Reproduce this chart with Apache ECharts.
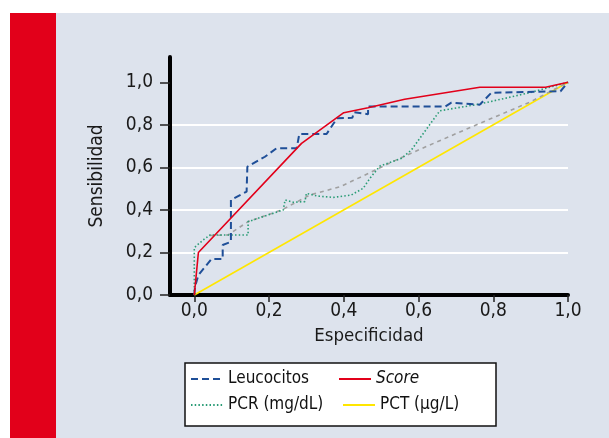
<!DOCTYPE html>
<html>
<head>
<meta charset="utf-8">
<script src="https://cdn.jsdelivr.net/npm/echarts@6/dist/echarts.min.js"></script>
<style>
  html, body { margin: 0; padding: 0; background: #fff; }
  #chart { width: 609px; height: 438px; }
</style>
</head>
<body>
<div id="chart"></div>
<script>
// curvas ROC
const leucX = [0, 0.002, 0.011, 0.046, 0.076, 0.076, 0.098, 0.098, 0.14, 0.142, 0.189, 0.22, 0.274, 0.281, 0.354, 0.382, 0.423, 0.427, 0.465, 0.465, 0.671, 0.688, 0.764, 0.795, 0.98, 1.0];
const leucY = [0, 0.04, 0.094, 0.169, 0.169, 0.235, 0.25, 0.447, 0.486, 0.603, 0.65, 0.69, 0.69, 0.757, 0.757, 0.831, 0.833, 0.86, 0.85, 0.886, 0.886, 0.904, 0.895, 0.951, 0.958, 1.0];

const scoreX = [0, 0.011, 0.287, 0.40, 0.465, 0.563, 0.764, 0.94, 1.0];
const scoreY = [0, 0.2, 0.713, 0.857, 0.88, 0.92, 0.977, 0.977, 1.0];

const pcrX = [0, 0, 0.008, 0.024, 0.042, 0.144, 0.144, 0.238, 0.243, 0.265, 0.296, 0.30, 0.33, 0.372, 0.42, 0.452, 0.47, 0.497, 0.555, 0.581, 0.657, 0.764, 0.897, 1.0];
const pcrY = [0, 0.222, 0.235, 0.259, 0.282, 0.282, 0.345, 0.40, 0.447, 0.436, 0.439, 0.478, 0.465, 0.459, 0.47, 0.502, 0.549, 0.607, 0.643, 0.682, 0.866, 0.898, 0.951, 1.0];

const pctX = [0, 1.0];
const pctY = [0, 1.0];

const refX = [0.042, 0.09, 0.144, 0.234, 0.309, 0.39, 0.47, 0.55, 0.63, 0.764, 0.897, 1.0];
const refY = [0.28, 0.282, 0.345, 0.40, 0.47, 0.509, 0.575, 0.643, 0.705, 0.807, 0.906, 1.0];

const ticks = [0, 0.2, 0.4, 0.6, 0.8, 1.0];
const seriesNames = ['Leucocitos', 'Score', 'PCR (mg/dL)', 'PCT (µg/L)'];

const font = "'DejaVu Sans Condensed', 'Liberation Sans Narrow', sans-serif";

function pairs(xs, ys) {
  return xs.map((x, i) => [x, ys[i]]);
}

function fmt(v) {
  return v.toFixed(1).replace('.', ',');
}

// anchos fijos para que las dos columnas de la leyenda queden alineadas
const legendRich = {
  c1: { fontFamily: font, fontSize: 17, color: '#111', width: 106, lineHeight: 22 },
  c1b: { fontFamily: font, fontSize: 17, color: '#111', width: 110, lineHeight: 22 },
  sc: { fontFamily: font, fontSize: 17, color: '#111', fontStyle: 'italic', width: 100, lineHeight: 22 },
  c2: { fontFamily: font, fontSize: 17, color: '#111', width: 111, lineHeight: 22 }
};
const legendKeys = { 'Leucocitos': 'c1', 'Score': 'sc', 'PCR (mg/dL)': 'c1b', 'PCT (µg/L)': 'c2' };

let myChart = echarts.init(document.getElementById('chart'), null, { renderer: 'canvas' });

let option = {
  backgroundColor: '#ffffff',
  animation: false,
  graphic: [
    { type: 'rect', z: -100, shape: { x: 56, y: 13, width: 553, height: 425 }, style: { fill: '#dde3ed' } },
    { type: 'rect', z: -100, shape: { x: 10, y: 13, width: 46, height: 425 }, style: { fill: '#e2001a' } }
  ],
  grid: { left: 170, right: 41, top: 57, bottom: 143 },
  xAxis: {
    type: 'value',
    min: -0.065,
    max: 1.0,
    name: 'Especificidad',
    nameLocation: 'middle',
    nameGap: 32,
    nameTextStyle: { fontFamily: font, fontSize: 18.5, color: '#1a1a1a' },
    axisLine: { onZero: false, lineStyle: { color: '#000', width: 4 } },
    axisTick: { customValues: ticks, length: 7, lineStyle: { color: '#222', width: 1.5 } },
    axisLabel: { customValues: ticks, formatter: fmt, fontFamily: font, fontSize: 19, color: '#1a1a1a', margin: 7 },
    splitLine: { show: false }
  },
  yAxis: {
    type: 'value',
    min: 0,
    max: 1.119,
    interval: 0.2,
    name: 'Sensibilidad',
    nameLocation: 'middle',
    nameGap: 63,
    nameTextStyle: { fontFamily: font, fontSize: 19, color: '#1a1a1a' },
    axisLine: { onZero: false, lineStyle: { color: '#000', width: 4 } },
    axisTick: { show: true, customValues: ticks, length: 10, lineStyle: { color: '#222', width: 1.5 } },
    axisLabel: { customValues: ticks, formatter: fmt, fontFamily: font, fontSize: 19, color: '#1a1a1a', margin: 17 },
    splitLine: { show: true, showMinLine: false, showMaxLine: false, lineStyle: { color: '#ffffff', width: 2 } }
  },
  legend: {
    data: seriesNames,
    left: 185,
    top: 363,
    width: 320,
    itemWidth: 32,
    itemHeight: 14,
    itemGap: 4,
    padding: [5, 5, 10, 5],
    backgroundColor: '#ffffff',
    borderColor: '#111',
    borderWidth: 1.5,
    borderRadius: 0,
    itemStyle: { opacity: 0 },
    textStyle: { fontFamily: font, fontSize: 17, color: '#111', lineHeight: 22, rich: legendRich },
    formatter: function (name) {
      return '{' + legendKeys[name] + '|' + name + '}';
    }
  },
  series: [
    {
      name: 'PCT (µg/L)', type: 'line', symbol: 'none', z: 2,
      lineStyle: { color: '#ffe600', width: 1.6 },
      itemStyle: { color: '#ffe600' },
      data: pairs(pctX, pctY)
    },
    {
      name: 'ref', type: 'line', symbol: 'none', z: 2,
      lineStyle: { color: '#a0a0a0', width: 1.6, type: [4, 4] },
      itemStyle: { color: '#a0a0a0' },
      data: pairs(refX, refY)
    },
    {
      name: 'PCR (mg/dL)', type: 'line', symbol: 'none', z: 3,
      lineStyle: { color: '#2a9c76', width: 1.6, type: [1.5, 2.2] },
      itemStyle: { color: '#2a9c76' },
      data: pairs(pcrX, pcrY)
    },
    {
      name: 'Leucocitos', type: 'line', symbol: 'none', z: 4,
      lineStyle: { color: '#1f4f98', width: 2, type: [7, 4] },
      itemStyle: { color: '#1f4f98' },
      data: pairs(leucX, leucY)
    },
    {
      name: 'Score', type: 'line', symbol: 'none', z: 5,
      lineStyle: { color: '#e2001a', width: 1.6 },
      itemStyle: { color: '#e2001a' },
      data: pairs(scoreX, scoreY)
    }
  ]
};

myChart.setOption(option);
</script>
</body>
</html>
